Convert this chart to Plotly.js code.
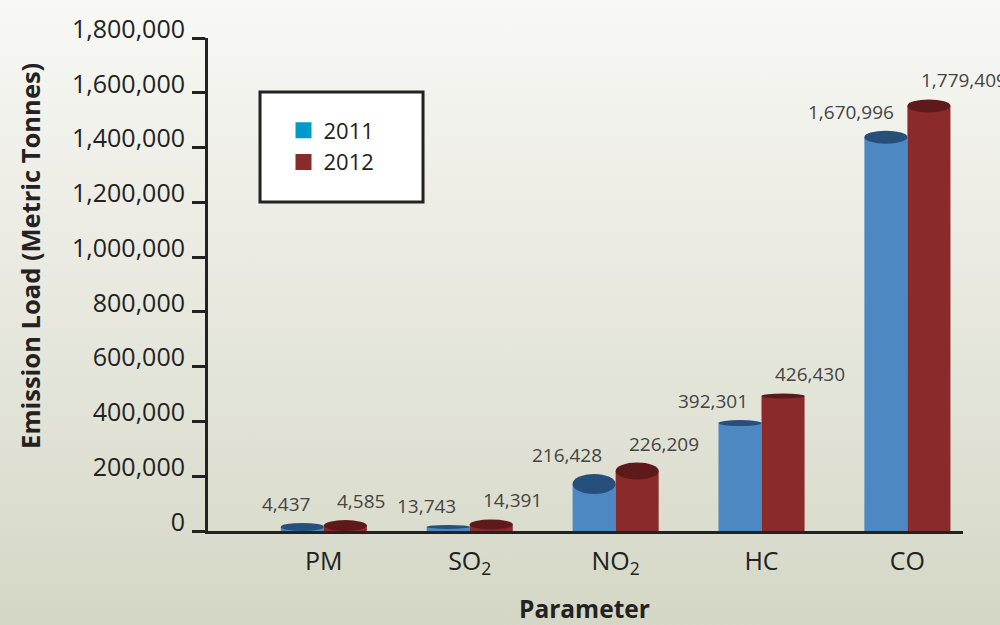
<!DOCTYPE html>
<html>
<head>
<meta charset="utf-8">
<script src="https://cdn.plot.ly/plotly-3.0.1.min.js"></script>
<style>
html,body{margin:0;padding:0;}
body{width:1000px;height:625px;background:linear-gradient(to bottom,#f8f8f5 0%,#eeeee7 30%,#e2e3d7 65%,#d4d7c5 100%);}
#chart{width:1000px;height:625px;}
</style>
</head>
<body>
<div id="chart"></div>
<script>
// ---- data ----
const categories = ["PM", "SO<sub>2</sub>", "NO<sub>2</sub>", "HC", "CO"];
const seriesNames = ["2011", "2012"];
// bar heights as drawn in the picture
const heights2011 = [15000, 15000, 172000, 394000, 1438000];
const heights2012 = [20000, 24000, 219000, 493000, 1552000];
// printed value labels
const labels2011 = ["4,437", "13,743", "216,428", "392,301", "1,670,996"];
const labels2012 = ["4,585", "14,391", "226,209", "426,430", "1,779,409"];
const yTickVals = [0, 200000, 400000, 600000, 800000, 1000000, 1200000, 1400000, 1600000, 1800000];

// ---- style ----
const bodyColors = ["#4e88c3", "#8b2a2a"];
const capColors = ["#264f7c", "#5e1a1a"];
const legendColors = ["#0099cc", "#8b2a2a"];
const capH2011 = [8, 4, 20, 6, 13];
const capH2012 = [11, 10, 17, 5, 13];
const BW = 0.295;

const xIdx = categories.map((c, i) => i);

const traces = [
  {type: "bar", x: xIdx, y: heights2011, width: BW, offset: -BW, marker: {color: bodyColors[0]}, showlegend: false, hoverinfo: "skip"},
  {type: "bar", x: xIdx, y: heights2012, width: BW, offset: 0, marker: {color: bodyColors[1]}, showlegend: false, hoverinfo: "skip"},
  {type: "scatter", mode: "markers", x: [null], y: [null], name: seriesNames[0], marker: {symbol: "square", size: 20, color: legendColors[0]}},
  {type: "scatter", mode: "markers", x: [null], y: [null], name: seriesNames[1], marker: {symbol: "square", size: 20, color: legendColors[1]}}
];

const shapes = [
  {type: "rect", xref: "paper", yref: "paper", x0: 0.0689, x1: 0.2848, y0: 0.6673, y1: 0.8905,
   fillcolor: "#ffffff", line: {color: "#222222", width: 3}, layer: "below"}
];
const annotations = [];
const series = [
  {h: heights2011, lab: labels2011, cap: capH2011, off: -BW, k: 0},
  {h: heights2012, lab: labels2012, cap: capH2012, off: 0, k: 1}
];
series.forEach(s => {
  s.h.forEach((v, i) => {
    shapes.push({type: "circle", xref: "x", yref: "y", x0: i + s.off, x1: i + s.off + BW,
      ysizemode: "pixel", yanchor: v, y0: -s.cap[i] / 2, y1: s.cap[i] / 2,
      fillcolor: capColors[s.k], line: {width: 0}, layer: "above"});
    annotations.push({xref: "x", yref: "y", x: i + s.off + BW / 2, y: v, text: s.lab[i],
      showarrow: false, xanchor: s.k === 0 ? "right" : "left", yanchor: "bottom",
      xshift: s.k === 0 ? 10 : -10, yshift: s.cap[i] / 2 + 4,
      font: {family: "Open Sans", size: 19, color: "#444444"}});
  });
});
annotations.push({xref: "paper", yref: "paper", x: -0.2358, y: 0.558, xanchor: "center", yanchor: "middle",
  text: "<b>Emission Load (Metric Tonnes)</b>",
  textangle: -90, showarrow: false, font: {family: "Open Sans", size: 25.5, color: "#222222"}});
annotations.push({xref: "paper", yref: "paper", x: 0.4993, y: -0.158, xanchor: "center", yanchor: "middle",
  text: "<b>Parameter</b>",
  showarrow: false, font: {family: "Open Sans", size: 24.5, color: "#222222"}});

const layout = {
  width: 1000, height: 625,
  margin: {l: 208, r: 37, t: 38, b: 94, pad: 0},
  paper_bgcolor: "rgba(0,0,0,0)", plot_bgcolor: "rgba(0,0,0,0)",
  showlegend: true,
  legend: {x: 0.1, y: 0.855, xanchor: "left", yanchor: "top", bgcolor: "rgba(0,0,0,0)",
    font: {family: "Open Sans", size: 22, color: "#222222"}, traceorder: "normal", tracegroupgap: 0},
  xaxis: {type: "linear", range: [-0.794, 4.381], tickvals: xIdx, ticktext: categories,
    showgrid: false, zeroline: false, showline: true, linecolor: "#222222", linewidth: 3,
    ticks: "", ticklabelstandoff: 6, tickfont: {family: "Open Sans", size: 25, color: "#222222"}, fixedrange: true},
  yaxis: {range: [0, 1800000], tickvals: yTickVals, ticktext: yTickVals.map(v => v.toLocaleString("en-US")),
    showgrid: false, zeroline: false, showline: true, linecolor: "#222222", linewidth: 3,
    ticks: "outside", ticklen: 13, tickwidth: 3, tickcolor: "#222222", ticklabelstandoff: 2, ticklabelshift: -9,
    tickfont: {family: "Open Sans", size: 25, color: "#222222"}, fixedrange: true},
  shapes: shapes,
  annotations: annotations
};

Plotly.newPlot("chart", traces, layout, {displayModeBar: false, staticPlot: true});
</script>
</body>
</html>
